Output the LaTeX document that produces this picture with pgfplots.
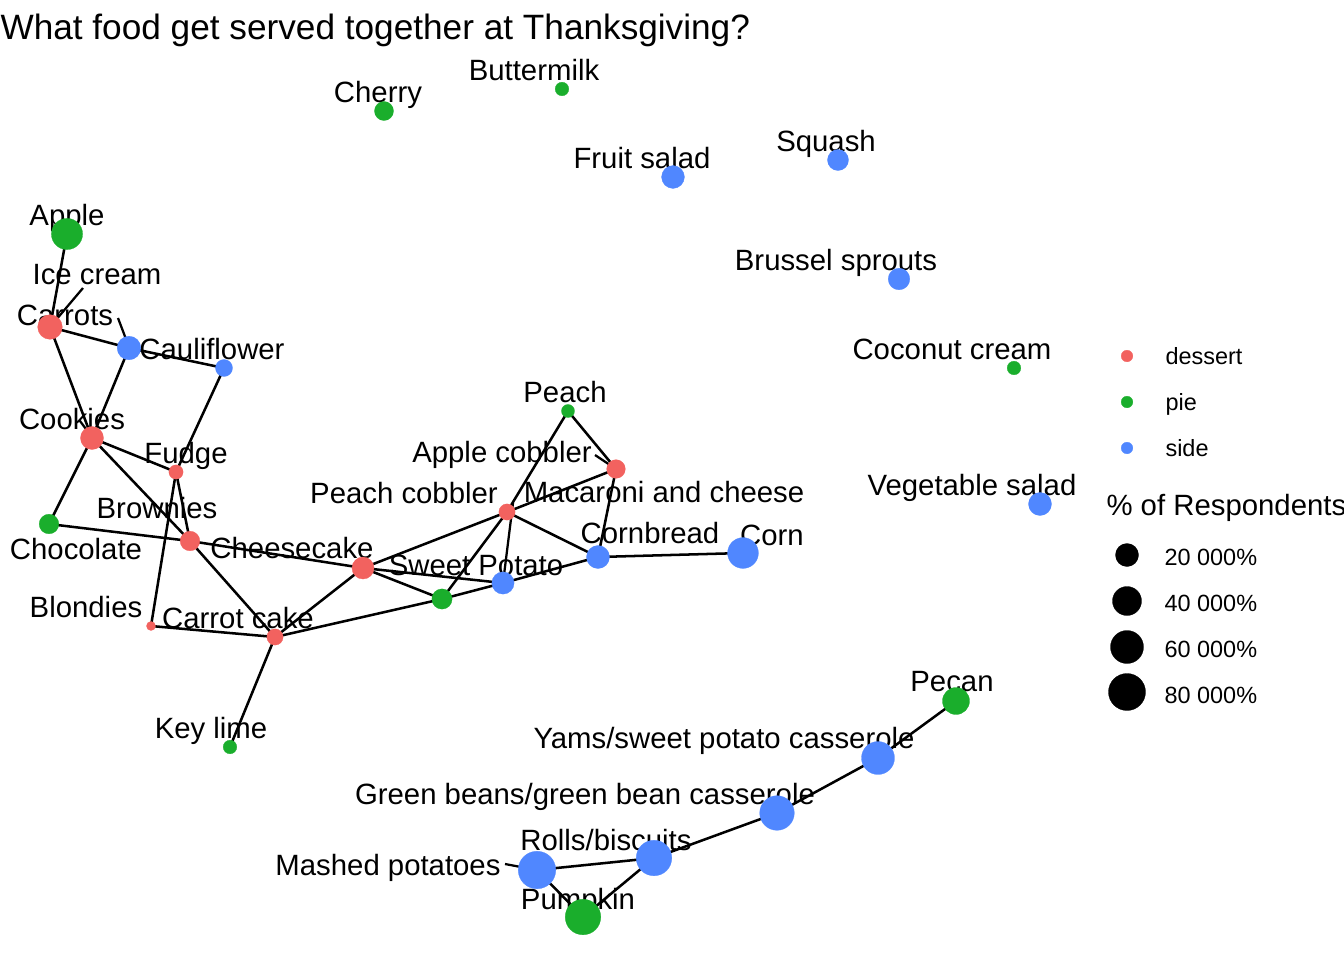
\documentclass[border=0pt]{standalone}
\usepackage{pgfplots}
\usepackage{pgfplotstable}
\usepackage{fontspec}
\setmainfont{Liberation Sans}
\pgfplotsset{compat=1.18}
\definecolor{cdessert}{RGB}{242,98,95}
\definecolor{cpie}{RGB}{26,174,44}
\definecolor{cside}{RGB}{80,135,255}
\newcommand\lbl{\fontsize{11bp}{13bp}\selectfont}
\newcommand\ttl{\fontsize{13.2bp}{15bp}\selectfont}
\newcommand\leg{\fontsize{8.8bp}{10bp}\selectfont}

\pgfplotstableread{
x y r
50 327 12.5
92 438 11.7
176 472 7.3
190 541 10
363 568 11.2
151 626 4.7
275 637 8.3
507 512 8.3
616 469 9.5
}\dessert
\pgfplotstableread{
x y r
384 111 9.7
562 89 7
67 234 15.8
49 524 10
230 747 7
568 411 6.7
442 599 10.3
1014 368 7
956 701 13.7
583 917 18
}\pie
\pgfplotstableread{
x y r
673 177 11.6
838 160 10.7
899 279 11
129 348 12
224 368 8.7
1040 504 11.7
503 583 11.3
598 557 11.7
743 553 15.6
878 758 16.7
777 813 17.5
654 858 18
537 870 19
}\side

\begin{document}
\begin{tikzpicture}
\begin{axis}[
  at={(0,0)}, anchor=south west,
  width=504bp, height=360bp, scale only axis,
  xmin=0, xmax=1344, ymin=0, ymax=960, y dir=reverse,
  hide axis, clip=false,
  myedge/.style={black, line width=0.95pt, mark=none},
  myseg/.style={black, line width=0.85pt, mark=none},
  mynodes/.style={scatter, only marks, mark=*,
    mark options={line width=0.1pt},
    scatter/use mapped color={draw=#1, fill=#1},
    visualization depends on={\thisrow{r} \as \rr},
    scatter/@pre marker code/.append style={/tikz/mark size=0.375*\rr-0.05}},
  dot/.style={only marks, mark=*, mark size=#1, mark options={draw=black, fill=black, line width=0.1pt}},
  cdot/.style={only marks, mark=*, mark size=2.2, mark options={draw=#1, fill=#1, line width=0.1pt}},
]
% edges
\addplot[myedge] coordinates {(67,234) (50,327)};
\addplot[myedge] coordinates {(50,327) (129,348)};
\addplot[myedge] coordinates {(50,327) (92,438)};
\addplot[myedge] coordinates {(129,348) (224,368)};
\addplot[myedge] coordinates {(129,348) (92,438)};
\addplot[myedge] coordinates {(224,368) (176,472)};
\addplot[myedge] coordinates {(92,438) (176,472)};
\addplot[myedge] coordinates {(92,438) (49,524)};
\addplot[myedge] coordinates {(92,438) (190,541)};
\addplot[myedge] coordinates {(176,472) (190,541)};
\addplot[myedge] coordinates {(176,472) (151,626)};
\addplot[myedge] coordinates {(49,524) (190,541)};
\addplot[myedge] coordinates {(190,541) (363,568)};
\addplot[myedge] coordinates {(190,541) (275,637)};
\addplot[myedge] coordinates {(151,626) (275,637)};
\addplot[myedge] coordinates {(275,637) (230,747)};
\addplot[myedge] coordinates {(275,637) (363,568)};
\addplot[myedge] coordinates {(275,637) (442,599)};
\addplot[myedge] coordinates {(363,568) (442,599)};
\addplot[myedge] coordinates {(363,568) (503,583)};
\addplot[myedge] coordinates {(363,568) (507,512)};
\addplot[myedge] coordinates {(442,599) (503,583)};
\addplot[myedge] coordinates {(503,583) (598,557)};
\addplot[myedge] coordinates {(507,512) (442,599)};
\addplot[myedge] coordinates {(507,512) (568,411)};
\addplot[myedge] coordinates {(507,512) (616,469)};
\addplot[myedge] coordinates {(507,512) (598,557)};
\addplot[myedge] coordinates {(568,411) (616,469)};
\addplot[myedge] coordinates {(616,469) (598,557)};
\addplot[myedge] coordinates {(598,557) (743,553)};
\addplot[myedge] coordinates {(956,701) (878,758)};
\addplot[myedge] coordinates {(878,758) (777,813)};
\addplot[myedge] coordinates {(777,813) (654,858)};
\addplot[myedge] coordinates {(654,858) (537,870)};
\addplot[myedge] coordinates {(537,870) (583,917)};
\addplot[myedge] coordinates {(583,917) (654,858)};
% nodes
\addplot[mynodes=cdessert] table[x=x, y=y] {\dessert};
\addplot[mynodes=cpie] table[x=x, y=y] {\pie};
\addplot[mynodes=cside] table[x=x, y=y] {\side};
% label segments
\addplot[myseg] coordinates {(83,288) (50,327)};
\addplot[myseg] coordinates {(118,318) (129,347)};
\addplot[myseg] coordinates {(595,455) (616,469)};
\addplot[myseg] coordinates {(513,503) (503,583)};
\addplot[myseg] coordinates {(505,864) (537,870)};
% labels
\begin{scope}[every node/.style={anchor=base, font=\lbl, inner sep=0pt}]
\node at (axis cs:378,102) {Cherry};
\node at (axis cs:534,80) {Buttermilk};
\node at (axis cs:642,168) {Fruit salad};
\node at (axis cs:826,151) {Squash};
\node at (axis cs:67,225) {Apple};
\node at (axis cs:97,284) {Ice cream};
\node at (axis cs:65,325) {Carrots};
\node at (axis cs:212,359) {Cauliflower};
\node at (axis cs:836,270) {Brussel sprouts};
\node at (axis cs:952,359) {Coconut cream};
\node at (axis cs:72,429) {Cookies};
\node at (axis cs:565,402) {Peach};
\node at (axis cs:502,462) {Apple cobbler};
\node at (axis cs:186,463) {Fudge};
\node at (axis cs:404,503) {Peach cobbler};
\node at (axis cs:664,502) {Macaroni and cheese};
\node at (axis cs:972,495) {Vegetable salad};
\node at (axis cs:157,518) {Brownies};
\node at (axis cs:76,559) {Chocolate};
\node at (axis cs:292,558) {Cheesecake};
\node at (axis cs:650,543) {Cornbread};
\node at (axis cs:772,545) {Corn};
\node at (axis cs:476,575) {Sweet Potato};
\node at (axis cs:86,617) {Blondies};
\node at (axis cs:238,628) {Carrot cake};
\node at (axis cs:211,738) {Key lime};
\node at (axis cs:952,691) {Pecan};
\node at (axis cs:724,748) {Yams/sweet potato casserole};
\node at (axis cs:585,804) {Green beans/green bean casserole};
\node at (axis cs:606,850) {Rolls/biscuits};
\node at (axis cs:388,875) {Mashed potatoes};
\node at (axis cs:578,909) {Pumpkin};
\end{scope}
% title
\node[anchor=base west, font=\ttl, inner sep=0pt] at (axis cs:0,39) {What food get served together at Thanksgiving?};
% legend: colour
\addplot[cdot=cdessert] coordinates {(1127,356)};
\addplot[cdot=cpie] coordinates {(1127,402)};
\addplot[cdot=cside] coordinates {(1127,448)};
\begin{scope}[every node/.style={anchor=base west, font=\leg, inner sep=0pt}]
\node at (axis cs:1165,364) {dessert};
\node at (axis cs:1165,410) {pie};
\node at (axis cs:1165,456) {side};
\node at (axis cs:1164,565) {20 000\%};
\node at (axis cs:1164,611) {40 000\%};
\node at (axis cs:1164,657) {60 000\%};
\node at (axis cs:1164,703) {80 000\%};
\end{scope}
\node[anchor=base west, font=\lbl, inner sep=0pt] at (axis cs:1106,515) {\% of Respondents};
% legend: size
\addplot[dot=4.35] coordinates {(1127,555)};
\addplot[dot=5.47] coordinates {(1127,601)};
\addplot[dot=6.22] coordinates {(1127,647)};
\addplot[dot=6.97] coordinates {(1127,692)};
\end{axis}
\pgfresetboundingbox
\useasboundingbox (0,0) rectangle (504bp,360bp);
\end{tikzpicture}
\end{document}
